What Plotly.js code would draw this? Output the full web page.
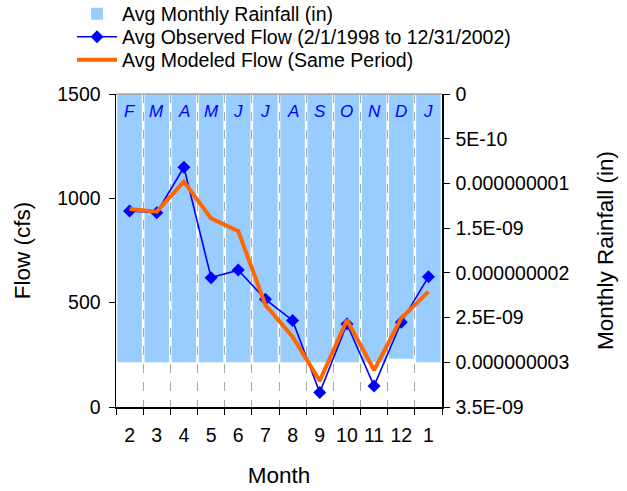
<!DOCTYPE html>
<html>
<head>
<meta charset="utf-8">
<script src="https://cdn.plot.ly/plotly-3.0.1.min.js"></script>
<style>html,body{margin:0;padding:0;background:#fff;}#chart{width:627px;height:491px;}</style>
</head>
<body>
<div id="chart"></div>
<script>
// Data
var months = ['2','3','4','5','6','7','8','9','10','11','12','1'];
var monthLetters = ['F','M','A','M','J','J','A','S','O','N','D','J'];
var rainfall = [3.0e-9,3.0e-9,3.0e-9,3.0e-9,3.0e-9,3.0e-9,3.0e-9,3.0e-9,3.0e-9,3.0e-9,2.96e-9,3.0e-9];
var observedFlow = [939,931,1149,620,656,516,415,69,398,101,406,624];
var modeledFlow = [949,936,1080,904,843,489,337,125,417,177,425,553];
var flowTickVals = [0,500,1000,1500];
var rainTickVals = [0,5e-10,1e-9,1.5e-9,2e-9,2.5e-9,3e-9,3.5e-9];
var rainTickText = ['0','5E-10','0.000000001','1.5E-09','0.000000002','2.5E-09','0.000000003','3.5E-09'];

var FONT = 'Arial, "Liberation Sans", sans-serif';

var traces = [
  {
    type: 'bar', name: 'Avg Monthly Rainfall (in)', legend: 'legend',
    x: months, y: rainfall, yaxis: 'y',
    marker: {color: '#99ccff', line: {width: 0}},
    hoverinfo: 'skip'
  },
  {
    type: 'scatter', mode: 'lines+markers', name: 'Avg Observed Flow (2/1/1998 to 12/31/2002)', legend: 'legend2',
    x: months, y: observedFlow, yaxis: 'y2',
    line: {color: '#0000ff', width: 1.6},
    marker: {symbol: 'diamond', size: 10, color: '#0000ff'}
  },
  {
    type: 'scatter', mode: 'lines', name: 'Avg Modeled Flow (Same Period)', legend: 'legend3',
    x: months, y: modeledFlow, yaxis: 'y2',
    line: {color: '#ff6600', width: 4}
  }
];

function legendAt(y) {
  return {x: -0.135, xanchor: 'left', y: y, yanchor: 'middle', bgcolor: 'rgba(0,0,0,0)',
          font: {family: FONT, size: 19.5}, itemwidth: 40};
}

// month initials placed over each category (x = category index)
var annotations = monthLetters.map(function (m, i) {
  return {x: i, xref: 'x', y: 0.9425, yref: 'paper', yanchor: 'middle',
          text: m, showarrow: false,
          font: {family: FONT, size: 17, color: '#0000ff', style: 'italic'}};
});

var layout = {
  width: 627, height: 491, autosize: false,
  margin: {l: 116, r: 185, t: 94, b: 84, pad: 0, autoexpand: false},
  paper_bgcolor: '#ffffff', plot_bgcolor: '#ffffff',
  font: {family: FONT, size: 19.5, color: '#000'},
  bargap: 0.1,
  showlegend: true,
  legend: legendAt(1.2556),
  legend2: legendAt(1.1821),
  legend3: legendAt(1.1086),
  xaxis: {
    type: 'category', tickson: 'boundaries', tickangle: 0,
    categoryorder: 'array', categoryarray: months,
    range: [-0.5, 11.5], domain: [0, 1], automargin: false,
    showline: true, linecolor: '#000', linewidth: 1.5,
    ticks: 'outside', ticklen: 6, tickcolor: '#000',
    showgrid: true, gridcolor: '#a6a6a6', griddash: 'dash', gridwidth: 1,
    tickfont: {family: FONT, size: 19.5}, ticklabelstandoff: 10,
    title: {text: 'Month', font: {family: FONT, size: 22.5}, standoff: 22}
  },
  yaxis: {
    side: 'right', automargin: false,
    range: [3.5e-9, 0],
    tickvals: rainTickVals, ticktext: rainTickText,
    showline: true, linecolor: '#000', linewidth: 1.5,
    ticks: 'outside', ticklen: 6, tickcolor: '#000',
    showgrid: false, zeroline: false,
    tickfont: {family: FONT, size: 19.5}, ticklabelstandoff: 2,
    title: {text: 'Monthly Rainfall (in)', font: {family: FONT, size: 22.5}, standoff: 29}
  },
  yaxis2: {
    overlaying: 'y', side: 'left', automargin: false,
    range: [0, 1500], tickvals: flowTickVals,
    showline: true, linecolor: '#000', linewidth: 1.5,
    ticks: 'outside', ticklen: 6, tickcolor: '#000',
    showgrid: false, zeroline: false,
    tickfont: {family: FONT, size: 19.5}, ticklabelstandoff: 4,
    title: {text: 'Flow (cfs)', font: {family: FONT, size: 22.5}, standoff: 20}
  },
  annotations: annotations,
  shapes: [
    {type: 'line', xref: 'paper', yref: 'paper', x0: 0, x1: 1, y0: 1, y1: 1,
     line: {color: '#a6a6a6', width: 1.5}}
  ]
};

Plotly.newPlot('chart', traces, layout, {staticPlot: true, displayModeBar: false});
</script>
</body>
</html>
